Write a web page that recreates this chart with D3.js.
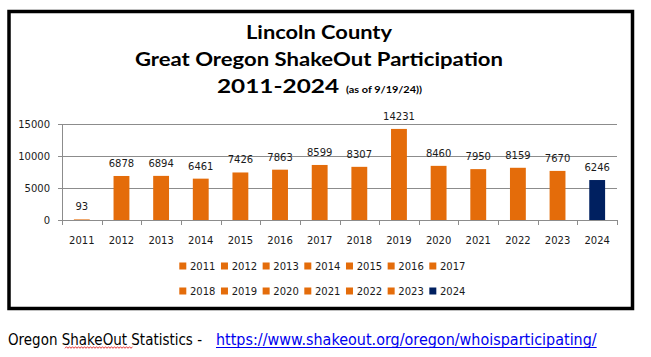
<!DOCTYPE html>
<html>
<head>
<meta charset="utf-8">
<script src="https://cdn.jsdelivr.net/npm/d3@7"></script>
<style>
  html, body { margin: 0; padding: 0; background: #ffffff; }
  svg { display: block; }
</style>
</head>
<body>
<svg id="chart" width="651" height="357"></svg>
<script>
// ---- data ----
const years = ["2011","2012","2013","2014","2015","2016","2017","2018","2019","2020","2021","2022","2023","2024"];
const participants = [93, 6878, 6894, 6461, 7426, 7863, 8599, 8307, 14231, 8460, 7950, 8159, 7670, 6246];
const yTickValues = [0, 5000, 10000, 15000];
const highlightYear = "2024";
const titleLines = ["Lincoln County", "Great Oregon ShakeOut Participation", "2011-2024"];
const titleNote = "(as of 9/19/24))";
const footerText = "Oregon ShakeOut Statistics - ";
const footerLink = "https://www.shakeout.org/oregon/whoisparticipating/";

// ---- style ----
const ORANGE = "#E46C0A";
const NAVY = "#002060";
const GRID = "#8c8c8c";
const TEXT = "#1a1a1a";
const colorOf = y => (y === highlightYear ? NAVY : ORANGE);

const svg = d3.select("#chart");

// frame
svg.append("rect")
  .attr("x", 9).attr("y", 11.5).attr("width", 623.5).attr("height", 297)
  .attr("fill", "#fff").attr("stroke", "#000").attr("stroke-width", 3.5);

// title
const titleFont = "Lato, 'Open Sans', sans-serif";
const cx = 319;
svg.append("text").attr("x", cx).attr("y", 39.3).attr("text-anchor", "middle")
  .attr("font-family", titleFont).attr("font-weight", 700).attr("font-size", 19)
  .attr("textLength", 146).attr("lengthAdjust", "spacingAndGlyphs")
  .attr("fill", "#000").text(titleLines[0]);
svg.append("text").attr("x", cx).attr("y", 66).attr("text-anchor", "middle")
  .attr("font-family", titleFont).attr("font-weight", 700).attr("font-size", 19)
  .attr("textLength", 368).attr("lengthAdjust", "spacingAndGlyphs")
  .attr("fill", "#000").text(titleLines[1]);
svg.append("text").attr("x", 217).attr("y", 92.7)
  .attr("font-family", titleFont).attr("font-weight", 700).attr("font-size", 19)
  .attr("textLength", 122).attr("lengthAdjust", "spacingAndGlyphs")
  .attr("fill", "#000").text(titleLines[2]);
svg.append("text").attr("x", 346).attr("y", 92.7)
  .attr("font-family", titleFont).attr("font-weight", 700).attr("font-size", 9)
  .attr("textLength", 76).attr("lengthAdjust", "spacingAndGlyphs")
  .attr("fill", "#000").text(titleNote);

// plot
const plot = { left: 62, right: 617, top: 124, bottom: 220 };
const x = d3.scaleBand().domain(years).range([plot.left, plot.right]).padding(0);
const y = d3.scaleLinear().domain([0, 15000]).range([plot.bottom, plot.top]);
const barW = x.bandwidth() * 0.4;
const axisFont = "'DejaVu Sans', Verdana, sans-serif";

// gridlines
svg.append("g").selectAll("line").data(yTickValues).join("line")
  .attr("x1", plot.left - 4).attr("x2", plot.right)
  .attr("y1", d => Math.round(y(d)) + 0.5).attr("y2", d => Math.round(y(d)) + 0.5)
  .attr("stroke", GRID).attr("stroke-width", 1);

// y axis labels
const yAxis = d3.axisLeft(y).tickValues(yTickValues).tickFormat(d3.format("d")).tickSize(0).tickPadding(12);
const gy = svg.append("g").attr("transform", `translate(${plot.left},0)`).call(yAxis);
gy.select(".domain").attr("stroke", GRID).attr("d", `M0.5,${plot.top}V${plot.bottom + 0.5}`);
gy.selectAll("text").attr("font-family", axisFont).attr("font-size", 10).attr("fill", TEXT);

// x axis
const boundaries = years.map(d => x(d)).concat([plot.right]);
svg.append("g").selectAll("line").data(boundaries).join("line")
  .attr("x1", d => Math.round(d) + 0.5).attr("x2", d => Math.round(d) + 0.5)
  .attr("y1", plot.bottom).attr("y2", plot.bottom + 5)
  .attr("stroke", GRID);
const xAxis = d3.axisBottom(x).tickSize(0).tickPadding(17);
const gx = svg.append("g").attr("transform", `translate(0,${plot.bottom})`).call(xAxis);
gx.select(".domain").remove();
gx.selectAll("text").attr("font-family", axisFont).attr("font-size", 10).attr("fill", TEXT);

// bars
const data = years.map((yr, i) => ({ year: yr, value: participants[i] }));
svg.append("g").selectAll("rect").data(data).join("rect")
  .attr("x", d => x(d.year) + (x.bandwidth() - barW) / 2)
  .attr("width", barW)
  .attr("y", d => y(d.value))
  .attr("height", d => y(0) - y(d.value))
  .attr("fill", d => colorOf(d.year));

// value labels
svg.append("g").selectAll("text").data(data).join("text")
  .attr("x", d => x(d.year) + x.bandwidth() / 2)
  .attr("y", d => y(d.value) - 9)
  .attr("text-anchor", "middle")
  .attr("font-family", axisFont).attr("font-size", 10).attr("fill", TEXT)
  .text(d => d.value);

// legend
const perRow = 7, legX0 = 179.3, legStep = 41.67, legRows = [266, 291];
const leg = svg.append("g").selectAll("g").data(years).join("g")
  .attr("transform", (d, i) => `translate(${legX0 + (i % perRow) * legStep},${legRows[Math.floor(i / perRow)]})`);
leg.append("rect").attr("x", 0).attr("y", -3.5).attr("width", 7).attr("height", 7)
  .attr("fill", d => colorOf(d));
leg.append("text").attr("x", 10.7).attr("y", 3.7)
  .attr("font-family", axisFont).attr("font-size", 10).attr("fill", TEXT).text(d => d);

// footer
const footFont = "'DejaVu Sans', Verdana, sans-serif";
svg.append("text").attr("x", 8).attr("y", 345)
  .attr("font-family", footFont).attr("font-size", 15.5).attr("fill", "#000")
  .attr("textLength", 194).attr("lengthAdjust", "spacingAndGlyphs")
  .text(footerText.trimEnd());
svg.append("text").attr("x", 216).attr("y", 345)
  .attr("font-family", footFont).attr("font-size", 15.5).attr("fill", "#0000ee")
  .attr("textLength", 380.7).attr("lengthAdjust", "spacingAndGlyphs")
  .text(footerLink);
svg.append("line").attr("x1", 216).attr("x2", 596.7).attr("y1", 347.5).attr("y2", 347.5)
  .attr("stroke", "#0000ee").attr("stroke-width", 1);
// spell-check squiggle under "ShakeOut"
const sq = d3.range(65, 133.5, 1.5).map((px, i) => [px, 347.5 + (i % 2 ? -0.8 : 0.8)]);
svg.append("path").attr("d", d3.line()(sq)).attr("fill", "none")
  .attr("stroke", "#e02020").attr("stroke-width", 0.9);
</script>
</body>
</html>
